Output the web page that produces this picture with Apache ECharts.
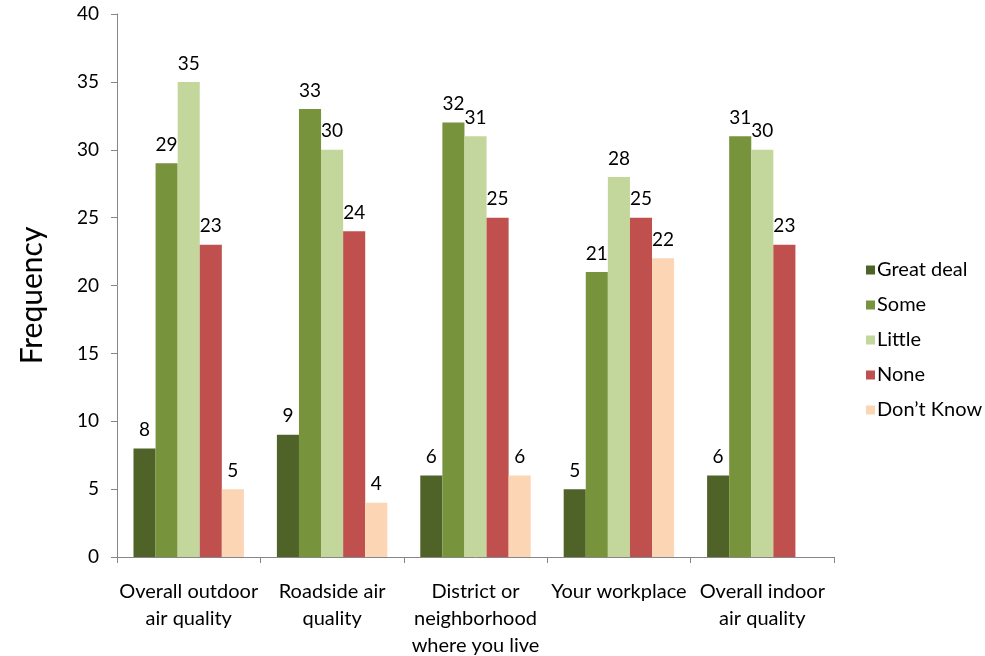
<!DOCTYPE html>
<html>
<head>
<meta charset="utf-8">
<script src="https://cdn.jsdelivr.net/npm/echarts@6/dist/echarts.min.js"></script>
<style>html,body{margin:0;padding:0;background:#fff}#c{width:985px;height:656px}</style>
</head>
<body>
<div id="c"></div>
<script>
const categories = ["Overall outdoor\nair quality", "Roadside air\nquality", "District or\nneighborhood\nwhere you live", "Your workplace", "Overall indoor\nair quality"];
const seriesNames = ["Great deal", "Some", "Little", "None", "Don\u2019t Know"];
const greatDeal = [8, 9, 6, 5, 6];
const some = [29, 33, 32, 21, 31];
const little = [35, 30, 31, 28, 30];
const none = [23, 24, 25, 25, 23];
const dontKnow = [5, 4, 6, 22, null];
const colors = ["#4F6228", "#77933C", "#C3D69B", "#C0504D", "#FCD5B5"];
const yTicks = [0, 5, 10, 15, 20, 25, 30, 35, 40];

const FONT = "Lato";
const values = [greatDeal, some, little, none, dontKnow];
const chart = echarts.init(document.getElementById('c'), null, {renderer: 'canvas'});
chart.setOption({
  animation: false,
  textStyle: {fontFamily: FONT},
  color: colors,
  grid: {left: 117, right: 151, top: 14, bottom: 99, containLabel: false, outerBoundsMode: 'none'},
  legend: {
    orient: 'vertical', left: 861, top: 255,
    itemWidth: 9, itemHeight: 9, itemGap: 15,
    icon: 'rect',
    data: seriesNames,
    textStyle: {fontFamily: FONT, fontSize: 20, color: '#000', padding: [0, 0, 0, -3]}
  },
  xAxis: {
    type: 'category', data: categories,
    axisLine: {lineStyle: {color: '#878787', width: 1}},
    axisTick: {show: true, length: 6, lineStyle: {color: '#878787'}, alignWithLabel: false},
    axisLabel: {fontFamily: FONT, fontSize: 20, color: '#000', margin: 21, lineHeight: 27, interval: 0, align: 'center', verticalAlign: 'top'},
    splitLine: {show: false}
  },
  yAxis: {
    type: 'value', min: yTicks[0], max: yTicks[yTicks.length - 1], interval: 5,
    name: 'Frequency', nameLocation: 'middle', nameGap: 70, nameRotate: 90,
    nameTextStyle: {fontFamily: FONT, fontSize: 30, color: '#000', padding: [0, 20, 0, 0]},
    axisLine: {show: true, lineStyle: {color: '#878787', width: 1}},
    axisTick: {show: true, length: 6, lineStyle: {color: '#878787'}},
    axisLabel: {fontFamily: FONT, fontSize: 19, color: '#000', margin: 18},
    splitLine: {show: false}
  },
  series: seriesNames.map((n, i) => ({
    name: n, type: 'bar', data: values[i],
    barGap: '0%', barCategoryGap: '23%',
    itemStyle: {color: colors[i]},
    label: {show: true, position: 'top', distance: 9, fontFamily: FONT, fontSize: 19, color: '#000'}
  }))
});
</script>
</body>
</html>
